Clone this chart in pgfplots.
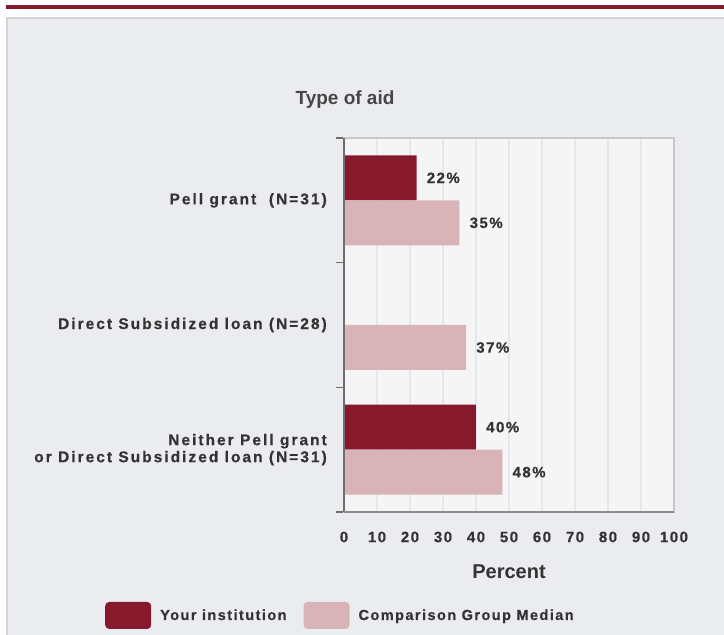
\documentclass[border=0pt]{standalone}
\usepackage{pgfplots}
\pgfplotsset{compat=1.18}
\usepackage{fontspec}
\setmainfont{Liberation Sans}
\newfontfamily\lblfam[LetterSpace=13,FakeBold=0.5]{Liberation Sans}
\newfontfamily\tckfam[LetterSpace=10,FakeBold=0.5]{Liberation Sans}
\newfontfamily\legfam[LetterSpace=10,FakeBold=0.5]{Liberation Sans}
\newcommand\lbl{\lblfam\bfseries\fontsize{15.5}{17}\selectfont}
\newcommand\tck{\tckfam\bfseries\fontsize{15}{17}\selectfont}
\newcommand\leg{\legfam\bfseries\fontsize{14.5}{17}\selectfont}
\definecolor{topred}{HTML}{861A2C}
\definecolor{barred}{HTML}{861A2C}
\definecolor{barpink}{HTML}{D8B3B8}
\definecolor{panel}{HTML}{EBECF0}
\definecolor{panelborder}{HTML}{D4D4D4}
\definecolor{plotbg}{HTML}{F5F5F5}
\definecolor{gridcol}{HTML}{E2E7F0}
\definecolor{axiscol}{HTML}{6E6E6E}
\definecolor{bordercol}{HTML}{C8C8C8}
\definecolor{txt}{HTML}{333333}
\begin{document}
\begin{tikzpicture}[x=1pt,y=1pt]
\useasboundingbox (0,0) rectangle (724,635);
\fill[white] (0,0) rectangle (724,635);
\fill[topred] (6,626) rectangle (724,630);
\filldraw[fill=panel, draw=panelborder, line width=2pt] (7,617) rectangle (740,-10);
\begin{axis}[
  at={(344pt,123pt)}, anchor=south west,
  width=330pt, height=374pt, scale only axis,
  xmin=0, xmax=100, ymin=-0.5, ymax=2.5,
  xbar, bar width=45pt,
  /pgf/number format/assume math mode=true,
  axis background/.style={fill=plotbg},
  axis line style={draw=bordercol, line width=1.2pt},
  tick pos=left,
  xtick={0,10,...,100},
  ytick={0,1,2},
  yticklabels={{Neither Pell grant\\or Direct Subsidized loan (N=31)},{Direct Subsidized loan (N=28)},{Pell grant~~(N=31)}},
  major tick length=0pt,
  minor ytick={-0.5,0.5,1.5,2.5},
  minor tick length=8pt,
  tick align=outside,
  minor y tick style={draw=axiscol, line width=1.5pt},
  major tick style={draw=none},
  xmajorgrids,
  major x grid style={draw=gridcol, line width=1.2pt},
  xticklabel style={anchor=center, inner sep=0pt, yshift=-25pt, font=\tck, text=txt},
  yticklabel style={anchor=east, align=right, inner sep=0pt, xshift=-17pt, font=\lbl, text=txt},
  title={Type of aid},
  title style={at={(axis description cs:0.003,1.088)}, anchor=center, font=\bfseries\fontsize{19}{22}\selectfont, text=txt!90},
  xlabel={Percent},
  xlabel style={at={(axis description cs:0.5,-0.1604)}, anchor=center, font=\bfseries\fontsize{20}{24}\selectfont, text=txt},
  point meta=x,
  nodes near coords={\pgfmathprintnumber{\pgfplotspointmeta}\%},
  nodes near coords align=horizontal,
  every node near coord/.append style={font=\tck, text=txt, inner sep=0pt, anchor=west, xshift=10pt},
  legend columns=2,
  legend style={at={(axis description cs:-0.7242,-0.2767)}, anchor=west, draw=none, fill=none, inner sep=0pt, font=\leg, text=txt,
    /tikz/every odd column/.append style={column sep=7pt},
    /tikz/every even column/.append style={column sep=15pt}},
  after end axis/.code={
    \draw[axiscol, line width=1.5pt] (rel axis cs:0,0) -- (rel axis cs:0,1);
    \draw[axiscol!80, line width=2pt] (rel axis cs:0,0) -- (rel axis cs:1,0);
  },
]
\addplot[fill=barred, draw=none, bar shift=22.5pt,
  legend image code/.code={\fill[barred, rounded corners=4pt] (0pt,-13.5pt) rectangle (46pt,13.5pt);}]
  coordinates {(22,2) (40,0)};
\addlegendentry{Your institution}
\addplot[fill=barpink, draw=none, bar shift=-22.5pt,
  legend image code/.code={\fill[barpink, rounded corners=4pt] (0pt,-13.5pt) rectangle (46pt,13.5pt);}]
  coordinates {(35,2) (37,1) (48,0)};
\addlegendentry{Comparison Group Median}
\end{axis}
\end{tikzpicture}
\end{document}
